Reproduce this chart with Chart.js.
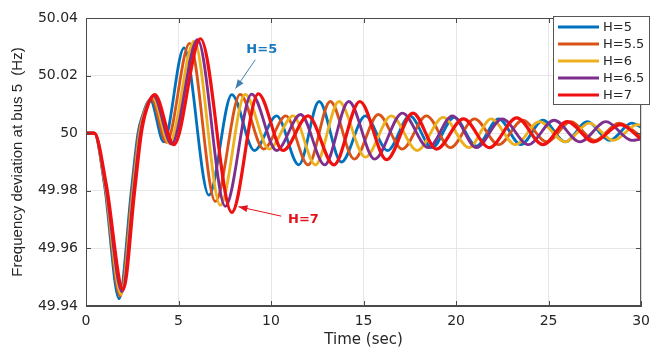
<!DOCTYPE html>
<html>
<head>
<meta charset="utf-8">
<script src="https://cdn.jsdelivr.net/npm/chart.js@4.4.1/dist/chart.umd.min.js"></script>
<style>
html,body{margin:0;padding:0;background:#fff;}
#wrap{width:657px;height:350px;position:relative;}
</style>
</head>
<body>
<div id="wrap"><canvas id="c"></canvas></div>
<script>
// ---- data ----
const seriesNames = ["H=5", "H=5.5", "H=6", "H=6.5", "H=7"];

const tH5   = [0, 0.45, 1.0, 1.79, 2.45, 2.81, 3.04, 3.47, 4.2, 5.3, 6.64, 7.88, 9.1, 10.3, 11.5, 12.6, 13.8, 15.1, 16.3, 17.5, 18.7, 19.9, 21.1, 22.3, 23.5, 24.7, 25.9, 27.1, 28.3, 29.5, 30];
const vH5   = [50, 50, 49.982, 49.9425, 49.98, 50.0, 50.0058, 50.0116, 49.997, 50.0296, 49.9785, 50.0134, 49.994, 50.006, 49.989, 50.011, 49.990, 50.006, 49.994, 50.006, 49.995, 50.0055, 49.9955, 50.005, 49.996, 50.0045, 49.997, 50.004, 49.9975, 50.0035, 50.002];

const tH55  = [0, 0.45, 1.02, 1.85, 2.5, 2.86, 3.1, 3.53, 4.35, 5.6, 6.99, 8.33, 9.6, 10.8, 12.0, 13.2, 14.5, 15.8, 17.1, 18.4, 19.7, 21.0, 22.3, 23.6, 24.9, 26.2, 27.5, 28.8, 30];
const vH55  = [50, 50, 49.982, 49.9435, 49.98, 50.0, 50.0065, 50.012, 49.9968, 50.0312, 49.9763, 50.0135, 49.9945, 50.006, 49.989, 50.011, 49.991, 50.0065, 49.9945, 50.006, 49.995, 50.005, 49.996, 50.0045, 49.997, 50.004, 49.9975, 50.0035, 49.999];

const tH6   = [0, 0.45, 1.04, 1.9, 2.54, 2.9, 3.15, 3.59, 4.5, 5.85, 7.26, 8.6, 9.9, 11.2, 12.4, 13.67, 15.1, 16.5, 17.9, 19.3, 20.7, 21.9, 23.2, 24.5, 25.9, 27.2, 28.5, 29.8, 30];
const vH6   = [50, 50, 49.982, 49.944, 49.98, 50.0, 50.007, 50.0125, 49.9965, 50.032, 49.975, 50.0135, 49.9945, 50.006, 49.989, 50.011, 49.9917, 50.006, 49.994, 50.0055, 49.995, 50.005, 49.996, 50.004, 49.997, 50.0035, 49.9975, 50.003, 50.0028];

const tH65  = [0, 0.45, 1.06, 1.95, 2.58, 2.94, 3.2, 3.65, 4.62, 6.03, 7.53, 8.95, 10.3, 11.6, 12.9, 14.2, 15.6, 17.1, 18.5, 19.8, 21.1, 22.5, 23.9, 25.3, 26.7, 28.1, 29.5, 30];
const vH65  = [50, 50, 49.982, 49.945, 49.98, 50.0, 50.0075, 50.013, 49.9962, 50.0325, 49.9746, 50.0136, 49.994, 50.0065, 49.989, 50.011, 49.991, 50.007, 49.995, 50.006, 49.995, 50.005, 49.996, 50.0045, 49.997, 50.004, 49.9975, 49.998];

const tH7   = [0, 0.45, 1.1, 2.01, 2.63, 2.99, 3.26, 3.72, 4.75, 6.19, 7.88, 9.31, 10.65, 12.0, 13.4, 14.8, 16.25, 17.67, 18.95, 20.4, 21.8, 23.28, 24.7, 26.0, 27.45, 28.88, 30];
const vH7   = [50, 50, 49.982, 49.9457, 49.98, 50.0, 50.008, 50.0134, 49.996, 50.0328, 49.9725, 50.0137, 49.994, 50.006, 49.989, 50.011, 49.9908, 50.007, 49.9945, 50.005, 49.995, 50.0053, 49.996, 50.004, 49.997, 50.003, 49.998];

const xTicks = [0, 5, 10, 15, 20, 25, 30];
const yTicks = [49.94, 49.96, 49.98, 50, 50.02, 50.04];
const yTickLabels = ["49.94", "49.96", "49.98", "50", "50.02", "50.04"];

// ---- styles ----
const colors = ["#0072BD", "#D95319", "#EDB120", "#7E2F8E", "#F01010"];
const widths = [2.8, 2.8, 2.8, 2.8, 3.2];
const tArr = [tH5, tH55, tH6, tH65, tH7];
const vArr = [vH5, vH55, vH6, vH65, vH7];

const datasets = seriesNames.map((n, i) => ({
  label: n,
  data: tArr[i].map((t, j) => ({x: t, y: vArr[i][j]})),
  borderColor: colors[i],
  backgroundColor: colors[i],
  borderWidth: widths[i],
  pointRadius: 0,
  fill: false,
  cubicInterpolationMode: 'monotone',
  order: seriesNames.length - i
}));

const axisColor = '#4a4a4a';
const textColor = '#262626';

function arrow(ctx, x1, y1, x2, y2, col) {
  ctx.save();
  ctx.strokeStyle = col; ctx.fillStyle = col; ctx.lineWidth = 1;
  ctx.beginPath(); ctx.moveTo(x1, y1); ctx.lineTo(x2, y2); ctx.stroke();
  const a = Math.atan2(y2 - y1, x2 - x1), L = 9, W = 3.5;
  ctx.beginPath();
  ctx.moveTo(x2, y2);
  ctx.lineTo(x2 - L * Math.cos(a) + W * Math.sin(a), y2 - L * Math.sin(a) - W * Math.cos(a));
  ctx.lineTo(x2 - L * Math.cos(a) - W * Math.sin(a), y2 - L * Math.sin(a) + W * Math.cos(a));
  ctx.closePath(); ctx.fill();
  ctx.restore();
}

const framePlugin = {
  id: 'frame',
  afterDatasetsDraw(chart) {
    const ctx = chart.ctx, a = chart.chartArea, xs = chart.scales.x, ys = chart.scales.y;
    ctx.save();
    ctx.strokeStyle = axisColor; ctx.lineWidth = 1;
    ctx.beginPath();
    ctx.moveTo(a.left, a.top + 0.5); ctx.lineTo(a.right, a.top + 0.5);
    ctx.moveTo(a.right - 0.5, a.top); ctx.lineTo(a.right - 0.5, a.bottom);
    ctx.moveTo(a.left, a.bottom - 0.5); ctx.lineTo(a.right, a.bottom - 0.5);
    ctx.moveTo(a.left + 0.5, a.top); ctx.lineTo(a.left + 0.5, a.bottom);
    const tl = 5;
    xTicks.forEach(v => {
      const px = Math.round(xs.getPixelForValue(v)) + 0.5;
      ctx.moveTo(px, a.bottom); ctx.lineTo(px, a.bottom - tl);
      ctx.moveTo(px, a.top); ctx.lineTo(px, a.top + tl);
    });
    yTicks.forEach(v => {
      const py = Math.round(ys.getPixelForValue(v)) + 0.5;
      ctx.moveTo(a.left, py); ctx.lineTo(a.left + tl, py);
      ctx.moveTo(a.right, py); ctx.lineTo(a.right - tl, py);
    });
    ctx.stroke();

    // annotations
    ctx.font = 'bold 13px "DejaVu Sans"';
    ctx.textAlign = 'center'; ctx.textBaseline = 'middle';
    ctx.fillStyle = '#1a78bf';
    ctx.fillText('H=5', xs.getPixelForValue(9.5), ys.getPixelForValue(50.029));
    arrow(ctx, xs.getPixelForValue(9.15), ys.getPixelForValue(50.0255), xs.getPixelForValue(8.08), ys.getPixelForValue(50.0155), '#3f7fb0');
    ctx.fillStyle = '#e3141c';
    ctx.fillText('H=7', xs.getPixelForValue(11.75), ys.getPixelForValue(49.9700));
    arrow(ctx, xs.getPixelForValue(10.55), ys.getPixelForValue(49.9712), xs.getPixelForValue(8.24), ys.getPixelForValue(49.9745), '#e3141c');

    // legend box
    const lx = 553, ly = 16, lw = 97, lh = 89;
    ctx.fillStyle = '#fff';
    ctx.fillRect(lx, ly, lw, lh);
    ctx.strokeStyle = '#555'; ctx.lineWidth = 1;
    ctx.strokeRect(lx + 0.5, ly + 0.5, lw - 1, lh - 1);
    ctx.font = '13px "DejaVu Sans"';
    ctx.textAlign = 'left'; ctx.textBaseline = 'middle';
    seriesNames.forEach((n, i) => {
      const yy = 27 + i * 17;
      ctx.strokeStyle = colors[i]; ctx.lineWidth = widths[i];
      ctx.beginPath(); ctx.moveTo(558, yy); ctx.lineTo(599, yy); ctx.stroke();
      ctx.fillStyle = textColor;
      ctx.fillText(n, 603, yy + 1);
    });
    ctx.restore();
  }
};

new Chart(document.getElementById('c'), {
  type: 'line',
  data: {datasets},
  options: {
    responsive: true,
    maintainAspectRatio: false,
    animation: false,
    events: [],
    layout: {padding: {top: 18, right: 9, left: 0, bottom: 0}},
    plugins: {legend: {display: false}, tooltip: {enabled: false}},
    scales: {
      x: {
        type: 'linear', min: 0, max: 30,
        afterBuildTicks: s => { s.ticks = xTicks.map(v => ({value: v})); },
        afterFit: s => { s.height = 44; },
        ticks: {font: {family: 'DejaVu Sans', size: 14}, color: textColor, padding: 7, maxRotation: 0,
                callback: v => String(v)},
        grid: {color: '#e6e6e6', drawTicks: false, lineWidth: 1},
        border: {display: true, color: axisColor, width: 1},
        title: {display: true, text: 'Time (sec)', font: {family: 'DejaVu Sans', size: 15}, color: textColor, padding: {top: 0, bottom: 1}}
      },
      y: {
        type: 'linear', min: 49.94, max: 50.04,
        afterBuildTicks: s => { s.ticks = yTicks.map(v => ({value: v})); },
        afterFit: s => { s.width = 86; },
        ticks: {font: {family: 'DejaVu Sans', size: 14}, color: textColor, padding: 8,
                callback: (v) => { const k = yTicks.findIndex(t => Math.abs(t - v) < 1e-6); return k >= 0 ? yTickLabels[k] : ''; }},
        grid: {color: '#e6e6e6', drawTicks: false, lineWidth: 1},
        border: {display: true, color: axisColor, width: 1},
        title: {display: true, text: 'Frequency deviation at bus 5  (Hz)', font: {family: 'Liberation Sans', size: 15}, color: textColor, padding: {top: 9, bottom: 0}}
      }
    }
  },
  plugins: [framePlugin]
});
</script>
</body>
</html>
